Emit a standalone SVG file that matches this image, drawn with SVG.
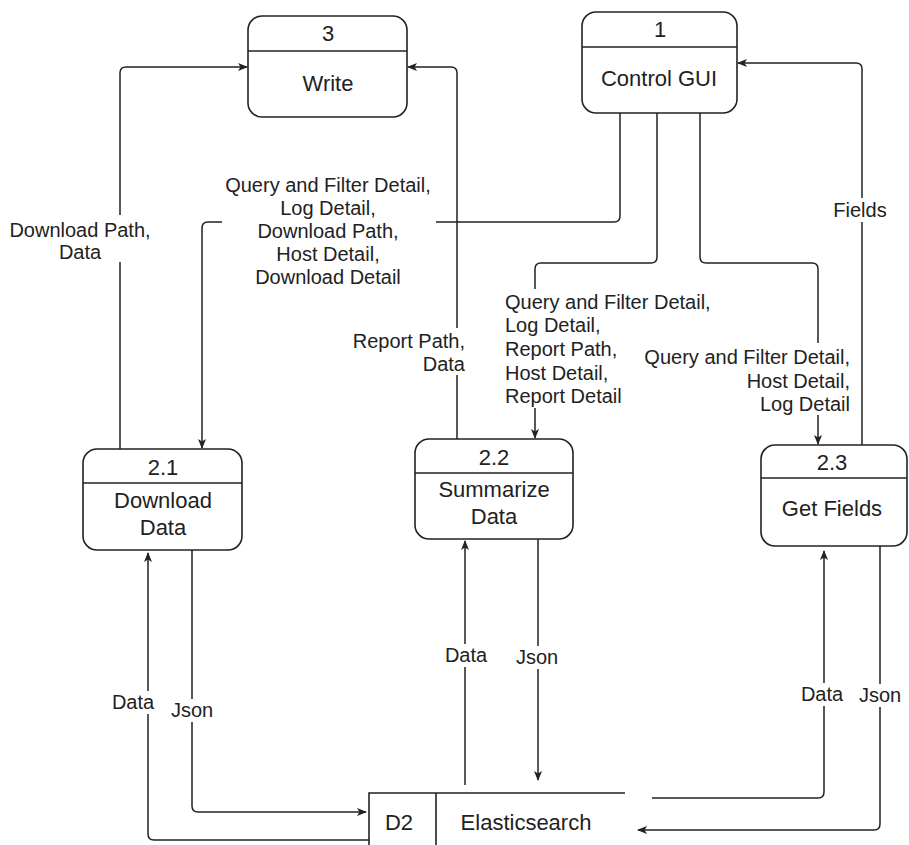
<svg xmlns="http://www.w3.org/2000/svg" width="909" height="845" viewBox="0 0 909 845">
<defs>
<marker id="arr" viewBox="0 0 10 10" refX="9" refY="5" markerWidth="10" markerHeight="10" markerUnits="userSpaceOnUse" orient="auto">
<path d="M0,1 L10,5 L0,9 L2.5,5 z" fill="#222"/>
</marker>
<style>
.node{fill:#fff;stroke:#222;stroke-width:1.6}
.div{stroke:#222;stroke-width:1.6;fill:none}
.edge{fill:none;stroke:#222;stroke-width:1.5}
.nt{font-family:"Liberation Sans",Arial,sans-serif;font-size:22px;fill:#222;text-anchor:middle}
.lt{font-family:"Liberation Sans",Arial,sans-serif;font-size:20px;fill:#222}
.bg{fill:#fff}
</style>
</defs>
<rect width="909" height="845" fill="#fff"/>

<g id="connectors">
<path class="edge" d="M120,449 V73 Q120,67 126,67 H247" marker-end="url(#arr)"/>
<path class="edge" d="M620,113 V216 Q620,222 614,222 H208 Q202,222 202,228 V448" marker-end="url(#arr)"/>
<path class="edge" d="M657,113 V257 Q657,263 651,263 H541 Q535,263 535,269 V438" marker-end="url(#arr)"/>
<path class="edge" d="M457,439 V73 Q457,67 451,67 H408" marker-end="url(#arr)"/>
<path class="edge" d="M700,113 V257 Q700,263 706,263 H812 Q818,263 818,269 V444" marker-end="url(#arr)"/>
<path class="edge" d="M862,445 V69 Q862,63 856,63 H738" marker-end="url(#arr)"/>
<path class="edge" d="M369,840 H154 Q148,840 148,834 V553" marker-end="url(#arr)"/>
<path class="edge" d="M192,550 V806 Q192,812 198,812 H366" marker-end="url(#arr)"/>
<path class="edge" d="M465,785 V541" marker-end="url(#arr)"/>
<path class="edge" d="M538,539 V780" marker-end="url(#arr)"/>
<path class="edge" d="M652,798 H818 Q824,798 824,792 V551" marker-end="url(#arr)"/>
<path class="edge" d="M880,546 V824 Q880,830 874,830 H638" marker-end="url(#arr)"/>

<g id="label-c1">
<rect class="bg" x="8" y="215" width="146" height="47"/>
<text class="lt" text-anchor="middle" x="80" y="237">Download Path,</text>
<text class="lt" text-anchor="middle" x="80" y="259">Data</text>
</g>
<g id="label-c2">
<rect class="bg" x="222" y="172" width="214" height="114"/>
<text class="lt" text-anchor="middle" x="328" y="192">Query and Filter Detail,</text>
<text class="lt" text-anchor="middle" x="328" y="215">Log Detail,</text>
<text class="lt" text-anchor="middle" x="328" y="238">Download Path,</text>
<text class="lt" text-anchor="middle" x="328" y="261">Host Detail,</text>
<text class="lt" text-anchor="middle" x="328" y="284">Download Detail</text>
</g>
<g id="label-c3">
<rect class="bg" x="502" y="289" width="226" height="119"/>
<text class="lt" x="505" y="309">Query and Filter Detail,</text>
<text class="lt" x="505" y="332">Log Detail,</text>
<text class="lt" x="505" y="356">Report Path,</text>
<text class="lt" x="505" y="380">Host Detail,</text>
<text class="lt" x="505" y="403">Report Detail</text>
</g>
<g id="label-c4">
<rect class="bg" x="350" y="328" width="117" height="47"/>
<text class="lt" text-anchor="end" x="465" y="348">Report Path,</text>
<text class="lt" text-anchor="end" x="465" y="371">Data</text>
</g>
<g id="label-c5">
<rect class="bg" x="640" y="343" width="212" height="72"/>
<text class="lt" text-anchor="end" x="850" y="364">Query and Filter Detail,</text>
<text class="lt" text-anchor="end" x="850" y="388">Host Detail,</text>
<text class="lt" text-anchor="end" x="850" y="411">Log Detail</text>
</g>
<g id="label-c6">
<rect class="bg" x="834" y="198" width="54" height="24"/>
<text class="lt" text-anchor="middle" x="860" y="217">Fields</text>
</g>
<g id="label-c7">
<rect class="bg" x="111" y="691" width="44" height="23"/>
<text class="lt" text-anchor="middle" x="133" y="709">Data</text>
</g>
<g id="label-c8">
<rect class="bg" x="170" y="699" width="44" height="23"/>
<text class="lt" text-anchor="middle" x="192" y="717">Json</text>
</g>
<g id="label-c9">
<rect class="bg" x="444" y="644" width="44" height="23"/>
<text class="lt" text-anchor="middle" x="466" y="662">Data</text>
</g>
<g id="label-c10">
<rect class="bg" x="515" y="646" width="44" height="23"/>
<text class="lt" text-anchor="middle" x="537" y="664">Json</text>
</g>
<g id="label-c11">
<rect class="bg" x="800" y="683" width="44" height="23"/>
<text class="lt" text-anchor="middle" x="822" y="701">Data</text>
</g>
<g id="label-c12">
<rect class="bg" x="858" y="684" width="44" height="23"/>
<text class="lt" text-anchor="middle" x="880" y="702">Json</text>
</g>
</g>

<g id="node-3">
<rect class="node" x="248" y="16" width="159" height="101" rx="14"/>
<line class="div" x1="248" y1="51" x2="407" y2="51"/>
<text class="nt" x="328" y="41">3</text>
<text class="nt" x="328" y="91">Write</text>
</g>
<g id="node-1">
<rect class="node" x="582" y="12" width="155" height="101" rx="14"/>
<line class="div" x1="582" y1="47" x2="737" y2="47"/>
<text class="nt" x="660" y="37">1</text>
<text class="nt" x="659" y="86">Control GUI</text>
</g>
<g id="node-2-1">
<rect class="node" x="83" y="449" width="159" height="101" rx="14"/>
<line class="div" x1="83" y1="483" x2="242" y2="483"/>
<text class="nt" x="163" y="475">2.1</text>
<text class="nt" x="163" y="508">Download</text>
<text class="nt" x="163" y="535">Data</text>
</g>
<g id="node-2-2">
<rect class="node" x="415" y="439" width="158" height="100" rx="14"/>
<line class="div" x1="415" y1="473" x2="573" y2="473"/>
<text class="nt" x="494" y="465">2.2</text>
<text class="nt" x="494" y="497">Summarize</text>
<text class="nt" x="494" y="524">Data</text>
</g>
<g id="node-2-3">
<rect class="node" x="761" y="445" width="146" height="101" rx="14"/>
<line class="div" x1="761" y1="478" x2="907" y2="478"/>
<text class="nt" x="832" y="470">2.3</text>
<text class="nt" x="832" y="516">Get Fields</text>
</g>
<g id="store-d2">
<path class="div" d="M625,793 H369 V845 M436,793 V845"/>
<text class="nt" x="399" y="830">D2</text>
<text class="nt" x="526" y="830">Elasticsearch</text>
</g>
</svg>
